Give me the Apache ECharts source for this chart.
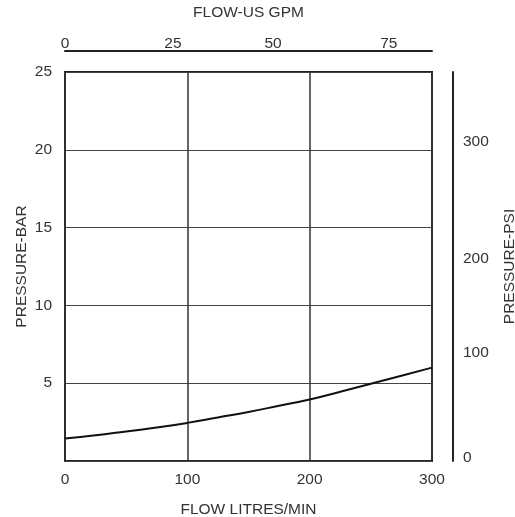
<!DOCTYPE html>
<html>
<head>
<meta charset="utf-8">
<script src="https://cdn.jsdelivr.net/npm/echarts@6/dist/echarts.min.js"></script>
<style>html,body{margin:0;padding:0;background:#fff}#c{width:515px;height:517px}</style>
</head>
<body>
<div id="c"></div>
<script>
// Curve: flow (litres/min) vs pressure (bar)
var flowLpm = [0, 25, 50, 75, 100, 125, 150, 175, 200, 225, 250, 275, 300];
var pressureBar = [1.45, 1.65, 1.9, 2.15, 2.45, 2.8, 3.15, 3.55, 3.95, 4.45, 4.97, 5.48, 6.0];

// Top axis (US GPM): label texts and where they sit on the GPM scale
var gpmLabels = ['0', '25', '50', '75'];
var gpmLabelPos = [0, 25, 48.2, 75];
// Right axis (PSI): label texts and where they sit on the PSI scale
var psiLabels = ['0', '100', '200', '300'];
var psiLabelPos = [3, 100.7, 188.3, 297.4];

var FONT = '"Liberation Sans", Arial, sans-serif';
var txt = {color: '#333', fontFamily: FONT, fontSize: 15.5};

var chart = echarts.init(document.getElementById('c'), null, {renderer: 'canvas'});
chart.setOption({
  animation: false,
  backgroundColor: '#fff',
  grid: {left: 65, right: 83, top: 72, bottom: 56, show: true, borderColor: '#222', borderWidth: 2,
    backgroundColor: 'transparent', containLabel: false, outerBoundsMode: 'none'},
  xAxis: [{
    type: 'value', position: 'bottom', min: 0, max: 300, interval: 100,
    name: 'FLOW LITRES/MIN', nameLocation: 'middle', nameGap: 41,
    nameTextStyle: txt,
    axisLine: {show: false}, axisTick: {show: false},
    axisLabel: Object.assign({margin: 11}, txt),
    splitLine: {show: true, lineStyle: {color: '#333', width: 1.5}}
  }, {
    type: 'value', position: 'top', offset: 21, min: 0, max: 85,
    name: 'FLOW-US GPM', nameLocation: 'middle', nameGap: 30,
    nameTextStyle: txt,
    axisLine: {show: true, onZero: false, lineStyle: {color: '#222', width: 2}},
    axisTick: {show: false},
    axisLabel: Object.assign({margin: -1, customValues: gpmLabelPos,
      formatter: function (v) { var i = gpmLabelPos.indexOf(v); return i >= 0 ? gpmLabels[i] : ''; }}, txt),
    splitLine: {show: false}
  }],
  yAxis: [{
    type: 'value', position: 'left', min: 0, max: 25, interval: 5,
    name: 'PRESSURE-BAR', nameLocation: 'middle', nameGap: 35, nameMoveOverlap: false,
    nameTextStyle: txt,
    axisLine: {show: false}, axisTick: {show: false},
    axisLabel: Object.assign({margin: 13, showMinLabel: false,
      formatter: function (v) { return v === 0 ? '' : String(v); }}, txt),
    splitLine: {show: true, lineStyle: {color: '#444', width: 1}}
  }, {
    type: 'value', position: 'right', offset: 21, min: 0, max: 362.6,
    name: 'PRESSURE-PSI', nameLocation: 'middle', nameGap: 49,
    nameTextStyle: txt,
    axisLine: {show: true, onZero: false, lineStyle: {color: '#222', width: 2}},
    axisTick: {show: false},
    axisLabel: Object.assign({margin: 10, customValues: psiLabelPos,
      formatter: function (v) { var i = psiLabelPos.indexOf(v); return i >= 0 ? psiLabels[i] : ''; }}, txt),
    splitLine: {show: false}
  }],
  series: [{
    type: 'line', xAxisIndex: 0, yAxisIndex: 0, smooth: true, symbol: 'none',
    lineStyle: {color: '#111', width: 2},
    data: flowLpm.map(function (f, i) { return [f, pressureBar[i]]; })
  }]
});
</script>
</body>
</html>
